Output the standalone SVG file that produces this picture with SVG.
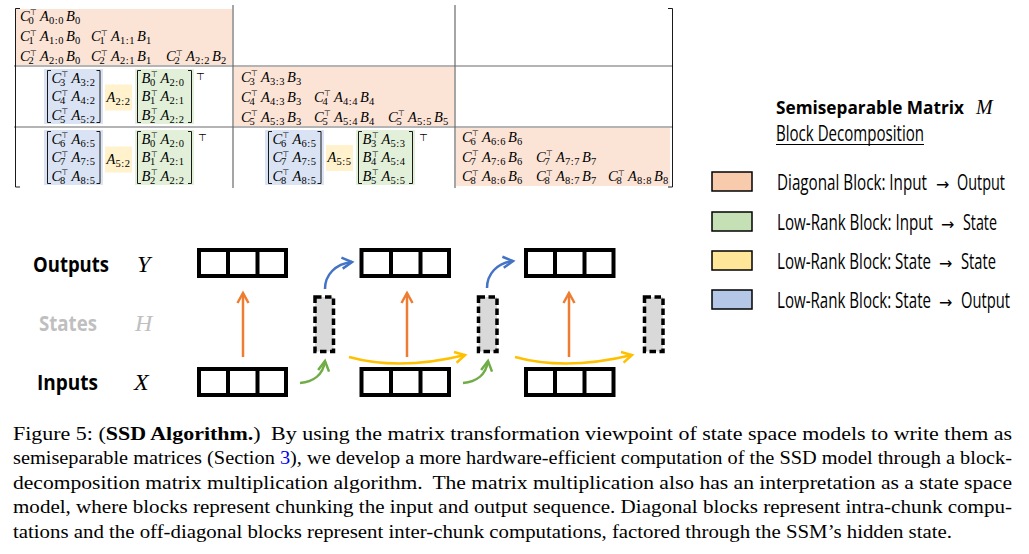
<svg xmlns="http://www.w3.org/2000/svg" xmlns:xlink="http://www.w3.org/1999/xlink" width="1029" height="554" viewBox="0 0 1029 554">
<style>
.m{font-family:"Liberation Serif",serif;font-style:italic;font-size:14.5px;fill:#000}
.s{font-style:normal;font-size:10.5px;letter-spacing:0.6px}
.t{font-family:"DejaVu Sans",sans-serif;font-style:normal;font-size:8px}
.tt{font-family:"DejaVu Sans",sans-serif;font-size:10px;fill:#000}
.br{fill:none;stroke:#000;stroke-width:0.9}
.grid{stroke:#6b6b6b;stroke-width:1.2;fill:none}
.pe{fill:#FBE3D6}
.bl{fill:#DAE3F3}
.ye{fill:#FFF2CC}
.gr{fill:#E2F0D9}
.lg{font-family:"Open Sans",sans-serif;font-size:21px;fill:#000}
.ar{font-family:"DejaVu Sans",sans-serif;font-size:16px;fill:#000}
.lab{font-family:"Open Sans",sans-serif;font-size:22px;font-weight:bold}
.var{font-family:"Liberation Serif",serif;font-style:italic;font-size:24px}
.box{fill:#fff;stroke:#000;stroke-width:4}
.div{stroke:#000;stroke-width:4}
.st{fill:#D9D9D9;stroke:#000;stroke-width:3.5;stroke-dasharray:6.5 3.5}
.cap{font-family:"Liberation Serif",serif;font-size:18px;fill:#000}
.key{stroke:#000;stroke-width:1.5}
</style>
<defs>
<marker id="aO" viewBox="-13 -8 16 16" markerWidth="16" markerHeight="16" refX="0" refY="0" orient="auto" markerUnits="userSpaceOnUse" overflow="visible"><path d="M-10,-5.5 L0,0 L-10,5.5" fill="none" stroke="#ED7D31" stroke-width="2.5"/></marker>
<marker id="aB" viewBox="-13 -8 16 16" markerWidth="16" markerHeight="16" refX="0" refY="0" orient="auto" markerUnits="userSpaceOnUse" overflow="visible"><path d="M-10,-5.5 L0,0 L-10,5.5" fill="none" stroke="#4472C4" stroke-width="2.5"/></marker>
<marker id="aG" viewBox="-13 -8 16 16" markerWidth="16" markerHeight="16" refX="0" refY="0" orient="auto" markerUnits="userSpaceOnUse" overflow="visible"><path d="M-10,-5.5 L0,0 L-10,5.5" fill="none" stroke="#70AD47" stroke-width="2.5"/></marker>
<marker id="aY" viewBox="-13 -8 16 16" markerWidth="16" markerHeight="16" refX="0" refY="0" orient="auto" markerUnits="userSpaceOnUse" overflow="visible"><path d="M-10,-5.5 L0,0 L-10,5.5" fill="none" stroke="#FFC000" stroke-width="2.5"/></marker>
</defs>
<rect width="1029" height="554" fill="#fff"/>

<!-- Matrix -->
<g id="matrix">
<rect class="pe" x="16" y="9" width="216" height="56"/>
<rect class="pe" x="234" y="67" width="220" height="59"/>
<rect class="pe" x="456" y="128" width="214" height="58"/>
<path class="grid" d="M233,5V188 M455,5V188 M14,66H673 M14,127H673"/>
<path class="br" d="M20,8.5H15.5V187H20 M668,8.5H672.5V187H668" stroke-width="1.2"/>
</g>

<g id="block-0-0" class="m">
<g transform="translate(20,20.5)"><text>C<tspan class="t" x="10" y="-5.5">⊤</tspan><tspan class="s" x="8.5" y="3">0</tspan><tspan x="20" y="0">A</tspan><tspan class="s" x="29" y="3">0:0</tspan><tspan x="46" y="0">B</tspan><tspan class="s" x="55" y="3">0</tspan></text></g>
<g transform="translate(20,41)"><text>C<tspan class="t" x="10" y="-5.5">⊤</tspan><tspan class="s" x="8.5" y="3">1</tspan><tspan x="20" y="0">A</tspan><tspan class="s" x="29" y="3">1:0</tspan><tspan x="46" y="0">B</tspan><tspan class="s" x="55" y="3">0</tspan></text></g>
<g transform="translate(91,41)"><text>C<tspan class="t" x="10" y="-5.5">⊤</tspan><tspan class="s" x="8.5" y="3">1</tspan><tspan x="20" y="0">A</tspan><tspan class="s" x="29" y="3">1:1</tspan><tspan x="46" y="0">B</tspan><tspan class="s" x="55" y="3">1</tspan></text></g>
<g transform="translate(20,61)"><text>C<tspan class="t" x="10" y="-5.5">⊤</tspan><tspan class="s" x="8.5" y="3">2</tspan><tspan x="20" y="0">A</tspan><tspan class="s" x="29" y="3">2:0</tspan><tspan x="46" y="0">B</tspan><tspan class="s" x="55" y="3">0</tspan></text></g>
<g transform="translate(91,61)"><text>C<tspan class="t" x="10" y="-5.5">⊤</tspan><tspan class="s" x="8.5" y="3">2</tspan><tspan x="20" y="0">A</tspan><tspan class="s" x="29" y="3">2:1</tspan><tspan x="46" y="0">B</tspan><tspan class="s" x="55" y="3">1</tspan></text></g>
<g transform="translate(166,61)"><text>C<tspan class="t" x="10" y="-5.5">⊤</tspan><tspan class="s" x="8.5" y="3">2</tspan><tspan x="20" y="0">A</tspan><tspan class="s" x="29" y="3">2:2</tspan><tspan x="46" y="0">B</tspan><tspan class="s" x="55" y="3">2</tspan></text></g>
</g>

<g id="block-1-1" class="m">
<g transform="translate(241,81.5)"><text>C<tspan class="t" x="10" y="-5.5">⊤</tspan><tspan class="s" x="8.5" y="3">3</tspan><tspan x="20" y="0">A</tspan><tspan class="s" x="29" y="3">3:3</tspan><tspan x="46" y="0">B</tspan><tspan class="s" x="55" y="3">3</tspan></text></g>
<g transform="translate(241,101.5)"><text>C<tspan class="t" x="10" y="-5.5">⊤</tspan><tspan class="s" x="8.5" y="3">4</tspan><tspan x="20" y="0">A</tspan><tspan class="s" x="29" y="3">4:3</tspan><tspan x="46" y="0">B</tspan><tspan class="s" x="55" y="3">3</tspan></text></g>
<g transform="translate(314,101.5)"><text>C<tspan class="t" x="10" y="-5.5">⊤</tspan><tspan class="s" x="8.5" y="3">4</tspan><tspan x="20" y="0">A</tspan><tspan class="s" x="29" y="3">4:4</tspan><tspan x="46" y="0">B</tspan><tspan class="s" x="55" y="3">4</tspan></text></g>
<g transform="translate(241,121.5)"><text>C<tspan class="t" x="10" y="-5.5">⊤</tspan><tspan class="s" x="8.5" y="3">5</tspan><tspan x="20" y="0">A</tspan><tspan class="s" x="29" y="3">5:3</tspan><tspan x="46" y="0">B</tspan><tspan class="s" x="55" y="3">3</tspan></text></g>
<g transform="translate(314,121.5)"><text>C<tspan class="t" x="10" y="-5.5">⊤</tspan><tspan class="s" x="8.5" y="3">5</tspan><tspan x="20" y="0">A</tspan><tspan class="s" x="29" y="3">5:4</tspan><tspan x="46" y="0">B</tspan><tspan class="s" x="55" y="3">4</tspan></text></g>
<g transform="translate(388,121.5)"><text>C<tspan class="t" x="10" y="-5.5">⊤</tspan><tspan class="s" x="8.5" y="3">5</tspan><tspan x="20" y="0">A</tspan><tspan class="s" x="29" y="3">5:5</tspan><tspan x="46" y="0">B</tspan><tspan class="s" x="55" y="3">5</tspan></text></g>
</g>

<g id="block-2-2" class="m">
<g transform="translate(462,141.5)"><text>C<tspan class="t" x="10" y="-5.5">⊤</tspan><tspan class="s" x="8.5" y="3">6</tspan><tspan x="20" y="0">A</tspan><tspan class="s" x="29" y="3">6:6</tspan><tspan x="46" y="0">B</tspan><tspan class="s" x="55" y="3">6</tspan></text></g>
<g transform="translate(462,161.5)"><text>C<tspan class="t" x="10" y="-5.5">⊤</tspan><tspan class="s" x="8.5" y="3">7</tspan><tspan x="20" y="0">A</tspan><tspan class="s" x="29" y="3">7:6</tspan><tspan x="46" y="0">B</tspan><tspan class="s" x="55" y="3">6</tspan></text></g>
<g transform="translate(536,161.5)"><text>C<tspan class="t" x="10" y="-5.5">⊤</tspan><tspan class="s" x="8.5" y="3">7</tspan><tspan x="20" y="0">A</tspan><tspan class="s" x="29" y="3">7:7</tspan><tspan x="46" y="0">B</tspan><tspan class="s" x="55" y="3">7</tspan></text></g>
<g transform="translate(462,181)"><text>C<tspan class="t" x="10" y="-5.5">⊤</tspan><tspan class="s" x="8.5" y="3">8</tspan><tspan x="20" y="0">A</tspan><tspan class="s" x="29" y="3">8:6</tspan><tspan x="46" y="0">B</tspan><tspan class="s" x="55" y="3">6</tspan></text></g>
<g transform="translate(536,181)"><text>C<tspan class="t" x="10" y="-5.5">⊤</tspan><tspan class="s" x="8.5" y="3">8</tspan><tspan x="20" y="0">A</tspan><tspan class="s" x="29" y="3">8:7</tspan><tspan x="46" y="0">B</tspan><tspan class="s" x="55" y="3">7</tspan></text></g>
<g transform="translate(608,181)"><text>C<tspan class="t" x="10" y="-5.5">⊤</tspan><tspan class="s" x="8.5" y="3">8</tspan><tspan x="20" y="0">A</tspan><tspan class="s" x="29" y="3">8:8</tspan><tspan x="46" y="0">B</tspan><tspan class="s" x="55" y="3">8</tspan></text></g>
</g>

<g id="block-1-0" class="m" transform="translate(44,69)">
<rect class="bl" x="0" y="0" width="59" height="55"/>
<path class="br" d="M7,1.5H3.5V53.5H7 M52.5,1.5H56V53.5H52.5"/>
<g transform="translate(7.5,13.5)"><text>C<tspan class="t" x="10" y="-5.5">⊤</tspan><tspan class="s" x="8.5" y="3">3</tspan><tspan x="20" y="0">A</tspan><tspan class="s" x="29" y="3">3:2</tspan></text></g>
<g transform="translate(7.5,32)"><text>C<tspan class="t" x="10" y="-5.5">⊤</tspan><tspan class="s" x="8.5" y="3">4</tspan><tspan x="20" y="0">A</tspan><tspan class="s" x="29" y="3">4:2</tspan></text></g>
<g transform="translate(7.5,50.5)"><text>C<tspan class="t" x="10" y="-5.5">⊤</tspan><tspan class="s" x="8.5" y="3">5</tspan><tspan x="20" y="0">A</tspan><tspan class="s" x="29" y="3">5:2</tspan></text></g>
<rect class="ye" x="61" y="15.5" width="27" height="26"/>
<g transform="translate(62.5,32.5)"><text>A<tspan class="s" x="9" y="3">2:2</tspan></text></g>
<rect class="gr" x="91" y="0" width="59" height="55"/>
<path class="br" d="M97,1.5H93.5V53.5H97 M144,1.5H147.5V53.5H144"/>
<g transform="translate(97.5,13.5)"><text>B<tspan class="t" x="9.5" y="-5.5">⊤</tspan><tspan class="s" x="8.5" y="3">0</tspan><tspan x="19" y="0">A</tspan><tspan class="s" x="28" y="3">2:0</tspan></text></g>
<g transform="translate(97.5,32)"><text>B<tspan class="t" x="9.5" y="-5.5">⊤</tspan><tspan class="s" x="8.5" y="3">1</tspan><tspan x="19" y="0">A</tspan><tspan class="s" x="28" y="3">2:1</tspan></text></g>
<g transform="translate(97.5,50.5)"><text>B<tspan class="t" x="9.5" y="-5.5">⊤</tspan><tspan class="s" x="8.5" y="3">2</tspan><tspan x="19" y="0">A</tspan><tspan class="s" x="28" y="3">2:2</tspan></text></g>
<text class="tt" x="152" y="11">⊤</text>
</g>

<g id="block-2-0" class="m" transform="translate(44,130)">
<rect class="bl" x="0" y="0" width="59" height="55"/>
<path class="br" d="M7,1.5H3.5V53.5H7 M52.5,1.5H56V53.5H52.5"/>
<g transform="translate(7.5,13.5)"><text>C<tspan class="t" x="10" y="-5.5">⊤</tspan><tspan class="s" x="8.5" y="3">6</tspan><tspan x="20" y="0">A</tspan><tspan class="s" x="29" y="3">6:5</tspan></text></g>
<g transform="translate(7.5,32)"><text>C<tspan class="t" x="10" y="-5.5">⊤</tspan><tspan class="s" x="8.5" y="3">7</tspan><tspan x="20" y="0">A</tspan><tspan class="s" x="29" y="3">7:5</tspan></text></g>
<g transform="translate(7.5,50.5)"><text>C<tspan class="t" x="10" y="-5.5">⊤</tspan><tspan class="s" x="8.5" y="3">8</tspan><tspan x="20" y="0">A</tspan><tspan class="s" x="29" y="3">8:5</tspan></text></g>
<rect class="ye" x="61" y="16.5" width="27" height="26"/>
<g transform="translate(62.5,33.5)"><text>A<tspan class="s" x="9" y="3">5:2</tspan></text></g>
<rect class="gr" x="91" y="0" width="59" height="55"/>
<path class="br" d="M97,1.5H93.5V53.5H97 M144,1.5H147.5V53.5H144"/>
<g transform="translate(97.5,13.5)"><text>B<tspan class="t" x="9.5" y="-5.5">⊤</tspan><tspan class="s" x="8.5" y="3">0</tspan><tspan x="19" y="0">A</tspan><tspan class="s" x="28" y="3">2:0</tspan></text></g>
<g transform="translate(97.5,32)"><text>B<tspan class="t" x="9.5" y="-5.5">⊤</tspan><tspan class="s" x="8.5" y="3">1</tspan><tspan x="19" y="0">A</tspan><tspan class="s" x="28" y="3">2:1</tspan></text></g>
<g transform="translate(97.5,50.5)"><text>B<tspan class="t" x="9.5" y="-5.5">⊤</tspan><tspan class="s" x="8.5" y="3">2</tspan><tspan x="19" y="0">A</tspan><tspan class="s" x="28" y="3">2:2</tspan></text></g>
<text class="tt" x="154" y="11">⊤</text>
</g>

<g id="block-2-1" class="m" transform="translate(265,130)">
<rect class="bl" x="0" y="0" width="59" height="55"/>
<path class="br" d="M7,1.5H3.5V53.5H7 M52.5,1.5H56V53.5H52.5"/>
<g transform="translate(7.5,13.5)"><text>C<tspan class="t" x="10" y="-5.5">⊤</tspan><tspan class="s" x="8.5" y="3">6</tspan><tspan x="20" y="0">A</tspan><tspan class="s" x="29" y="3">6:5</tspan></text></g>
<g transform="translate(7.5,32)"><text>C<tspan class="t" x="10" y="-5.5">⊤</tspan><tspan class="s" x="8.5" y="3">7</tspan><tspan x="20" y="0">A</tspan><tspan class="s" x="29" y="3">7:5</tspan></text></g>
<g transform="translate(7.5,50.5)"><text>C<tspan class="t" x="10" y="-5.5">⊤</tspan><tspan class="s" x="8.5" y="3">8</tspan><tspan x="20" y="0">A</tspan><tspan class="s" x="29" y="3">8:5</tspan></text></g>
<rect class="ye" x="61" y="15" width="27" height="26"/>
<g transform="translate(62.5,32)"><text>A<tspan class="s" x="9" y="3">5:5</tspan></text></g>
<rect class="gr" x="91" y="0" width="59" height="55"/>
<path class="br" d="M97,1.5H93.5V53.5H97 M144,1.5H147.5V53.5H144"/>
<g transform="translate(97.5,13.5)"><text>B<tspan class="t" x="9.5" y="-5.5">⊤</tspan><tspan class="s" x="8.5" y="3">3</tspan><tspan x="19" y="0">A</tspan><tspan class="s" x="28" y="3">5:3</tspan></text></g>
<g transform="translate(97.5,32)"><text>B<tspan class="t" x="9.5" y="-5.5">⊤</tspan><tspan class="s" x="8.5" y="3">4</tspan><tspan x="19" y="0">A</tspan><tspan class="s" x="28" y="3">5:4</tspan></text></g>
<g transform="translate(97.5,50.5)"><text>B<tspan class="t" x="9.5" y="-5.5">⊤</tspan><tspan class="s" x="8.5" y="3">5</tspan><tspan x="19" y="0">A</tspan><tspan class="s" x="28" y="3">5:5</tspan></text></g>
<text class="tt" x="154" y="11">⊤</text>
</g>

<!-- Legend -->
<g id="legend-title">
<text x="776" y="114" font-family="Open Sans, sans-serif" font-size="18" font-weight="bold" textLength="188" lengthAdjust="spacingAndGlyphs">Semiseparable Matrix</text>
<text x="976" y="114" font-family="Liberation Serif, serif" font-style="italic" font-size="20">M</text>
<text class="lg" x="776" y="141" font-size="20" textLength="148" lengthAdjust="spacingAndGlyphs">Block Decomposition</text>
<line x1="776" y1="144.5" x2="924" y2="144.5" stroke="#000" stroke-width="1"/>
</g>
<g id="legend-diag"><rect class="key" x="712" y="172" width="40" height="19" fill="#F8CBAD"/>
<text class="lg" x="777" y="190" textLength="150" lengthAdjust="spacingAndGlyphs">Diagonal Block: Input</text>
<text class="ar" x="936" y="190">→</text>
<text class="lg" x="957" y="190" textLength="48" lengthAdjust="spacingAndGlyphs">Output</text></g>
<g id="legend-in-state"><rect class="key" x="712" y="212" width="40" height="19" fill="#C5E0B4"/>
<text class="lg" x="777" y="230" textLength="156" lengthAdjust="spacingAndGlyphs">Low-Rank Block: Input</text>
<text class="ar" x="941" y="230">→</text>
<text class="lg" x="963" y="230" textLength="34" lengthAdjust="spacingAndGlyphs">State</text></g>
<g id="legend-state-state"><rect class="key" x="712" y="251" width="40" height="19" fill="#FFE699"/>
<text class="lg" x="777" y="269" textLength="154" lengthAdjust="spacingAndGlyphs">Low-Rank Block: State</text>
<text class="ar" x="939" y="269">→</text>
<text class="lg" x="961" y="269" textLength="35" lengthAdjust="spacingAndGlyphs">State</text></g>
<g id="legend-state-out"><rect class="key" x="712" y="290" width="40" height="19" fill="#B4C7E7"/>
<text class="lg" x="777" y="308" textLength="154" lengthAdjust="spacingAndGlyphs">Low-Rank Block: State</text>
<text class="ar" x="939" y="308">→</text>
<text class="lg" x="961" y="308" textLength="49" lengthAdjust="spacingAndGlyphs">Output</text></g>

<!-- Row labels -->
<g id="label-outputs"><text class="lab" x="33" y="272" textLength="76" lengthAdjust="spacingAndGlyphs">Outputs</text><text class="var" x="137" y="272">Y</text></g>
<g id="label-states" fill="#BFBFBF"><text class="lab" x="39" y="331" textLength="58" lengthAdjust="spacingAndGlyphs">States</text><text class="var" x="135" y="331">H</text></g>
<g id="label-inputs"><text class="lab" x="37" y="390" textLength="61" lengthAdjust="spacingAndGlyphs">Inputs</text><text class="var" x="134" y="390">X</text></g>

<!-- Connectors -->
<g id="connectors" fill="none" stroke-width="2.5">
<path d="M349,357 Q400,371 465,355" stroke="#FFC000" marker-end="url(#aY)"/>
<path d="M515,357 Q566,371 632,355" stroke="#FFC000" marker-end="url(#aY)"/>
<path d="M243,357V293" stroke="#ED7D31" marker-end="url(#aO)"/>
<path d="M407,357V293" stroke="#ED7D31" marker-end="url(#aO)"/>
<path d="M569,357V293" stroke="#ED7D31" marker-end="url(#aO)"/>
<path d="M325,289 C325,275 335,264 352,262" stroke="#4472C4" marker-end="url(#aB)"/>
<path d="M487,288 C487,274 497,263 513,261" stroke="#4472C4" marker-end="url(#aB)"/>
<path d="M300,383 C313,382 323,375 325,361" stroke="#70AD47" marker-end="url(#aG)"/>
<path d="M463,383 C476,382 486,375 488,361" stroke="#70AD47" marker-end="url(#aG)"/>
</g>

<!-- Chunk boxes -->
<g id="out-0"><rect class="box" x="199" y="250" width="87" height="26"/><path class="div" d="M228,250V276 M257.5,250V276"/></g>
<g id="out-1"><rect class="box" x="361.5" y="250" width="87.5" height="26"/><path class="div" d="M391,250V276 M420.5,250V276"/></g>
<g id="out-2"><rect class="box" x="526" y="250" width="87.5" height="26"/><path class="div" d="M555,250V276 M584.5,250V276"/></g>
<g id="in-0"><rect class="box" x="199" y="369" width="87" height="26"/><path class="div" d="M228,369V395 M257.5,369V395"/></g>
<g id="in-1"><rect class="box" x="361.5" y="369" width="87.5" height="26"/><path class="div" d="M391,369V395 M420.5,369V395"/></g>
<g id="in-2"><rect class="box" x="526" y="369" width="87.5" height="26"/><path class="div" d="M555,369V395 M584.5,369V395"/></g>
<g id="state-0"><rect class="st" x="315" y="297" width="18.5" height="54.5"/></g>
<g id="state-1"><rect class="st" x="478.5" y="297" width="18.5" height="54.5"/></g>
<g id="state-2"><rect class="st" x="644.5" y="297" width="18.5" height="54.5"/></g>

<!-- Caption -->
<g id="caption" class="cap">
<text x="13" y="439.5" textLength="999" lengthAdjust="spacingAndGlyphs">Figure 5: (<tspan font-weight="bold">SSD Algorithm.</tspan>) <tspan dx="4">By using the matrix transformation viewpoint of state space models to write them as</tspan></text>
<text x="13" y="464" textLength="999" lengthAdjust="spacingAndGlyphs">semiseparable matrices (Section <tspan fill="#0000EE">3</tspan>), we develop a more hardware-efficient computation of the SSD model through a block-</text>
<text x="13" y="488.5" textLength="999" lengthAdjust="spacingAndGlyphs">decomposition matrix multiplication algorithm. <tspan dx="4">The matrix multiplication also has an interpretation as a state space</tspan></text>
<text x="13" y="513" textLength="999" lengthAdjust="spacingAndGlyphs">model, where blocks represent chunking the input and output sequence. Diagonal blocks represent intra-chunk compu-</text>
<text x="13" y="537.5" textLength="939" lengthAdjust="spacingAndGlyphs">tations and the off-diagonal blocks represent inter-chunk computations, factored through the SSM’s hidden state.</text>
</g>
</svg>
